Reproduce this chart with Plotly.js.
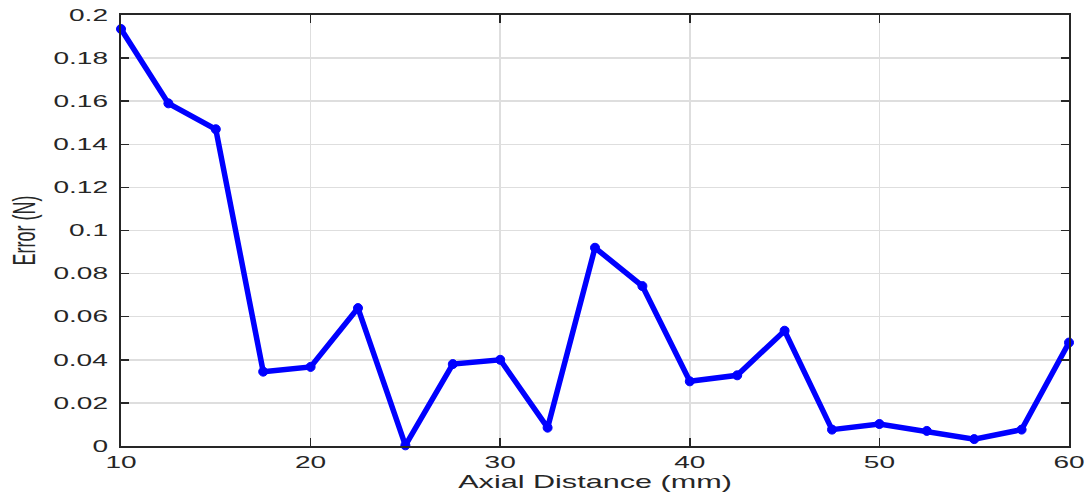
<!DOCTYPE html>
<html><head><meta charset="utf-8">
<script src="https://cdn.plot.ly/plotly-3.0.1.min.js"></script>
<style>html,body{margin:0;padding:0;background:#fff}#chart{width:1091px;height:503px}</style>
</head><body><div id="chart"></div>
<script>
const axialDistance = [10,12.5,15,17.5,20,22.5,25,27.5,30,32.5,35,37.5,40,42.5,45,47.5,50,52.5,55,57.5,60];
const errorN = [0.1935,0.159,0.147,0.0345,0.0367,0.064,0.0003,0.038,0.040,0.0085,0.092,0.0742,0.030,0.0328,0.0535,0.0076,0.0102,0.007,0.0032,0.0076,0.048];
const yTickVals = [0,0.02,0.04,0.06,0.08,0.1,0.12,0.14,0.16,0.18,0.2];
const yTickText = ['0','0.02','0.04','0.06','0.08','0.1','0.12','0.14','0.16','0.18','0.2'];
const xTickVals = [10,20,30,40,50,60];
const xTitle = 'Axial Distance (mm)';
const yTitle = 'Error (N)';

const trace = {
  x: axialDistance, y: errorN, type: 'scatter', mode: 'lines+markers',
  line: {color: '#0000ff', width: 5.5},
  marker: {color: '#0000ff', symbol: 'circle', size: 9, line: {color: '#0000ff', width: 1}},
  cliponaxis: false, hoverinfo: 'skip'
};
const fam = '"Liberation Sans", Arial, sans-serif';
const tickFont = {family: fam, size: 16.5, color: '#262626'};
const titleFont = {family: fam, size: 18, color: '#262626'};
const layout = {
  width: 1091, height: 503,
  margin: {l: 121, r: 22, t: 15, b: 57},
  paper_bgcolor: '#fff', plot_bgcolor: '#fff',
  showlegend: false, font: tickFont,
  xaxis: {
    range: [10,60], tickvals: xTickVals, ticktext: xTickVals.map(String),
    ticks: 'inside', ticklen: 8, tickcolor: '#262626', tickwidth: 1.5,
    showline: true, linecolor: '#262626', linewidth: 2, mirror: 'ticks',
    showgrid: true, gridcolor: '#dedede', gridwidth: 1.5, zeroline: false,
    tickfont: tickFont, title: {text: xTitle, font: titleFont}
  },
  yaxis: {
    range: [0,0.2], tickvals: yTickVals, ticktext: yTickText,
    ticks: 'inside', ticklen: 8, tickcolor: '#262626', tickwidth: 1.5,
    showline: true, linecolor: '#262626', linewidth: 2, mirror: 'ticks',
    showgrid: true, gridcolor: '#dedede', gridwidth: 1.5, zeroline: false,
    tickfont: tickFont,
    title: {text: yTitle, font: titleFont}
  }
};

function prepend(el, t){ el.setAttribute('transform', t + ' ' + (el.getAttribute('transform') || '')); }
function scaleX(el, s, anchor){
  const r = el.getBoundingClientRect();
  const ctm = el.parentNode.getScreenCTM();
  const sx = anchor === 'right' ? r.right : (r.left + r.right) / 2;
  const px = (sx - ctm.e) / ctm.a;
  prepend(el, 'translate(' + px + ',0) scale(' + s + ',1) translate(' + (-px) + ',0)');
}
function moveTo(el, tx, ty, mode){
  const r = el.getBoundingClientRect();
  const ctm = el.parentNode.getScreenCTM();
  const cx = mode === 'right' ? r.right : (r.left + r.right) / 2;
  const cy = (r.top + r.bottom) / 2;
  const dx = tx === null ? 0 : (tx - cx) / ctm.a;
  const dy = ty === null ? 0 : (ty - cy) / ctm.d;
  prepend(el, 'translate(' + dx + ',' + dy + ')');
}
const S = 1.7;
Plotly.newPlot('chart', [trace], layout, {displayModeBar: false, staticPlot: true}).then(function(gd){
  gd.querySelectorAll('.ytick text').forEach(function(el){ scaleX(el, S, 'right'); moveTo(el, 108, null, 'right'); });
  gd.querySelectorAll('.xtick text').forEach(function(el){ scaleX(el, S, 'center'); moveTo(el, null, 462.5, 'center'); });
  const xt = gd.querySelector('.g-xtitle text');
  if (xt) { scaleX(xt, S, 'center'); moveTo(xt, 595, 482, 'center'); }
  const yt = gd.querySelector('.g-ytitle text');
  if (yt) { scaleX(yt, S, 'center'); moveTo(yt, 24, 230.5, 'center'); }
});
</script></body></html>
